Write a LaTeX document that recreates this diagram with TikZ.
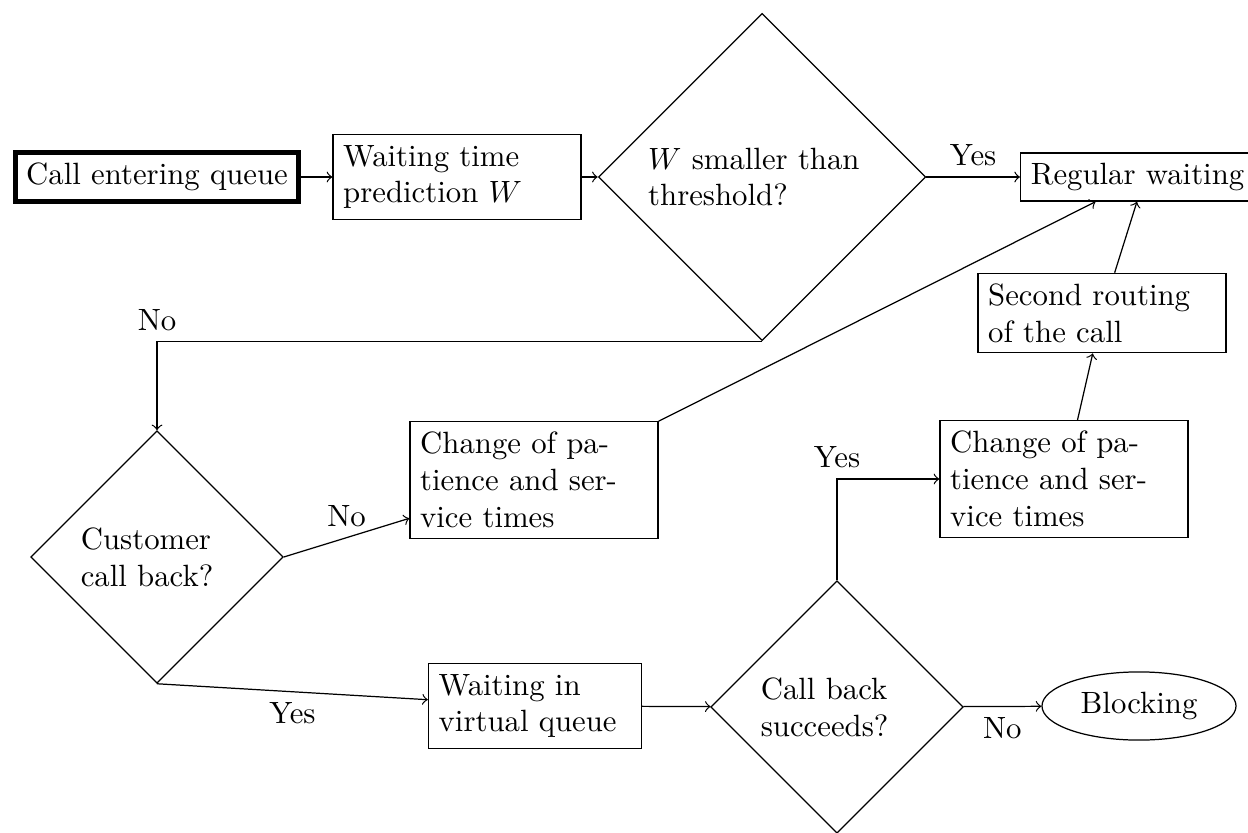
\documentclass[tikz,border=0pt]{standalone}
\usetikzlibrary{shapes.geometric}
\begin{document}
\begin{tikzpicture}[x=0.325pt,y=-0.325pt,
  box/.style={draw,rectangle,text width=2.6cm,align=left},
  dec/.style={draw,diamond,aspect=1,align=left},
  arr/.style={->}]
\useasboundingbox (0,0) rectangle (1248,833);
\node[draw,ultra thick] (start) at (157,177) {Call entering queue};
\node[box] (pred) at (457,177) {Waiting time prediction $W$};
\node[dec,text width=2.6cm] (d1) at (762,177) {$W$ smaller than threshold?};
\node[box,anchor=west] (reg) at (1020,177) {Regular waiting};
\node[dec,text width=1.74cm] (d2) at (157,557) {Customer call back?};
\node[box] (ch1) at (534,480) {Change of patience and service times};
\node[box] (ch2) at (1064,479) {Change of patience and service times};
\node[box] (route) at (1102,313) {Second routing of the call};
\node[box,text width=2.2cm] (vq) at (535,706) {Waiting in virtual queue};
\node[dec,text width=1.74cm] (d3) at (837,707) {Call back succeeds?};
\node[draw,ellipse] (block) at (1139,706) {Blocking};

\draw[arr] (start) -- (pred);
\draw[arr] (pred) -- (d1);
\draw[arr] (d1) -- node[above] {Yes} (reg);
\draw[arr] (d1.south) -| node[pos=0.5,above] {No} (d2.north);
\draw[arr] (d2.east) -- node[above] {No} (ch1);
\draw[arr] (d2.south) -- node[below] {Yes} (vq);
\draw[arr] (ch1.north east) -- (reg);
\draw[arr] (vq) -- (d3);
\draw[arr] (d3) -- node[below] {No} (block);
\draw[arr] (d3.north) |- node[pos=0.5,above] {Yes} (ch2);
\draw[arr] (ch2) -- (route);
\draw[arr] (route) -- (reg);
\end{tikzpicture}
\end{document}
